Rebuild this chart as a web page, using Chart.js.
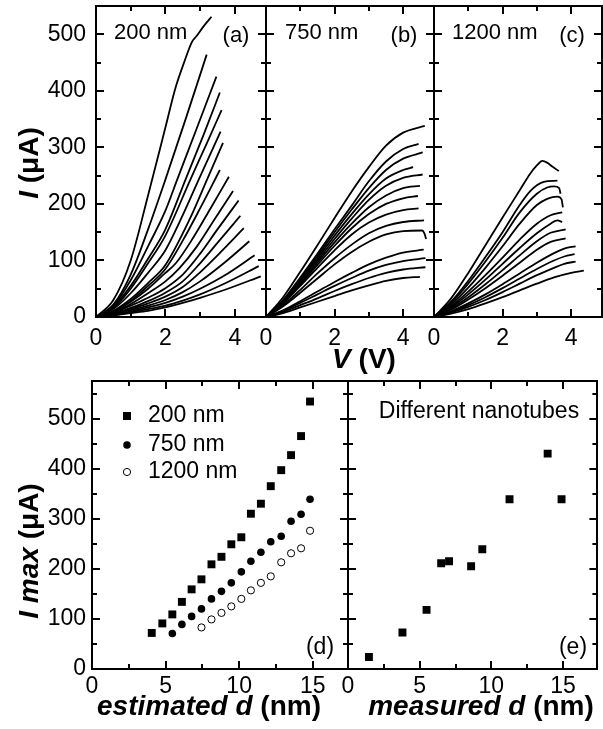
<!DOCTYPE html>
<html>
<head>
<meta charset="utf-8">
<title>I-V curves and Imax vs diameter</title>
<script src="https://cdn.jsdelivr.net/npm/chart.js@4.4.1/dist/chart.umd.min.js"></script>
<style>
  html, body { margin: 0; padding: 0; background: #fff; }
  #wrap { position: relative; width: 603px; height: 729px; }
  #wrap canvas { position: absolute; left: 0; top: 0; }
</style>
</head>
<body>
<div id="wrap">
  <canvas id="pa" width="603" height="729"></canvas>
  <canvas id="pb" width="603" height="729"></canvas>
  <canvas id="pc" width="603" height="729"></canvas>
  <canvas id="pd" width="603" height="729"></canvas>
  <canvas id="pe" width="603" height="729"></canvas>
</div>
<script>
// ---- tick values ----
const vTicks = [0, 2, 4];
const vMinor = [1, 3];
const iTicks = [0, 100, 200, 300, 400, 500];
const iMinorTop = [50, 150, 250, 350, 450];
const dTicks = [0, 5, 10, 15];
const dMinor = [2.5, 7.5, 12.5];
const iMinorBottom = [50, 150, 250, 350, 450, 550];

// ---- (a) I-V curves, 200 nm, [V, I] ----
const curves200 = [
  [[0,0],[0.5,30],[1,100],[1.5,215],[2,335],[2.29,405],[2.55,452],[2.77,487],[2.9,497],[3.1,514],[3.33,531]],
  [[0,0],[0.5,22],[1,75],[1.5,155],[2,243],[2.6,353],[3.19,464]],
  [[0,0],[0.5,20],[1,65],[1.5,125],[2,188],[2.34,243],[2.9,333],[3.47,425]],
  [[0,0],[0.5,18],[1,55],[1.5,103],[2,155],[2.58,243],[3.1,322],[3.57,397]],
  [[0,0],[0.5,16],[1,50],[1.5,95],[2,144],[2.72,243],[3.2,308],[3.62,366]],
  [[0,0],[0.5,14],[1,42],[1.5,78],[2,118],[2.5,180],[2.96,243],[3.59,328]],
  [[0,0],[0.5,11],[1,32],[1.5,60],[2,92],[2.7,173],[3.2,243],[3.66,308]],
  [[0,0],[0.5,10],[1,29],[1.5,55],[2,85],[2.5,135],[3.0,192],[3.57,260]],
  [[0,0],[0.5,9],[1,27],[1.5,50],[2,78],[2.3,95],[2.8,140],[3.3,192],[3.83,248]],
  [[0,0],[0.5,8],[1,23],[1.5,42],[2,63],[2.4,86],[2.9,124],[3.4,171],[3.95,223]],
  [[0,0],[0.5,7],[1,20],[1.5,34],[2,51],[2.5,75],[3,112],[3.5,155],[4.11,206]],
  [[0,0],[0.5,6],[1,16],[1.5,28],[2,43],[2.5,63],[3,95],[3.5,131],[4.16,179]],
  [[0,0],[0.5,5],[1,14],[1.5,24],[2,36],[2.5,53],[3,79],[3.6,115],[4.26,157]],
  [[0,0],[0.5,5],[1,12],[1.5,20],[2,30],[2.5,44],[3,63],[3.7,96],[4.42,134]],
  [[0,0],[0.5,4],[1,10],[1.5,17],[2,25],[2.5,36],[3,50],[3.8,77],[4.57,109]],
  [[0,0],[0.5,3],[1,8],[1.5,14],[2,20],[2.5,29],[3,40],[3.8,62],[4.69,90]],
  [[0,0],[0.5,3],[1,7],[1.5,11],[2,17],[2.5,25],[3,34],[3.8,50],[4.75,72]]
];

// ---- (b) I-V curves, 750 nm ----
const curves750 = [
  [[0,0],[0.5,35],[1,80],[1.5,127],[2,175],[2.5,222],[3,265],[3.5,303],[4,326],[4.63,338]],
  [[0,0],[0.5,30],[1,70],[1.5,112],[2,155],[2.5,197],[3,240],[3.5,275],[4,297],[4.45,306]],
  [[0,0],[0.5,29],[1,67],[1.5,108],[2,150],[2.5,190],[3,228],[3.5,260],[4,280],[4.57,291]],
  [[0,0],[0.5,28],[1,65],[1.5,104],[2,144],[2.5,182],[3,217],[3.5,245],[4,260],[4.29,265]],
  [[0,0],[0.5,27],[1,63],[1.5,100],[2,138],[2.5,174],[3,207],[3.5,232],[4,246],[4.57,252]],
  [[0,0],[0.5,26],[1,60],[1.5,96],[2,132],[2.5,165],[3,194],[3.5,215],[4,228],[4.49,232]],
  [[0,0],[0.5,25],[1,58],[1.5,92],[2,126],[2.5,157],[3,182],[3.5,200],[4,210],[4.43,214]],
  [[0,0],[0.5,24],[1,55],[1.5,87],[2,118],[2.5,146],[3,167],[3.5,181],[4,189],[4.45,192]],
  [[0,0],[0.5,21],[1,48],[1.5,77],[2,104],[2.5,128],[3,148],[3.5,161],[4,168],[4.61,171]],
  [[0,0],[0.5,19],[1,43],[1.5,68],[2,93],[2.5,115],[3,133],[3.5,146],[4,152],[4.55,153],[4.62,148],[4.67,138]],
  [[0,0],[0.5,12],[1,28],[1.5,45],[2,62],[2.5,78],[3,93],[3.5,105],[4,114],[4.6,119]],
  [[0,0],[0.5,11],[1,25],[1.5,40],[2,55],[2.5,69],[3,82],[3.5,92],[4,99],[4.65,104]],
  [[0,0],[0.5,9],[1,21],[1.5,33],[2,46],[2.5,58],[3,69],[3.5,78],[4,84],[4.65,88]],
  [[0,0],[0.5,7],[1,17],[1.5,27],[2,37],[2.5,47],[3,56],[3.5,64],[4,69],[4.49,71]]
];

// ---- (c) I-V curves, 1200 nm ----
const curves1200 = [
  [[0,0],[0.5,33],[1,78],[1.5,127],[2,176],[2.5,224],[2.8,253],[3.0,268],[3.16,276],[3.3,273],[3.45,266],[3.64,258]],
  [[0,0],[0.5,27],[1,64],[1.5,106],[2,150],[2.5,198],[2.8,222],[3.0,233],[3.2,239],[3.6,241]],
  [[0,0],[0.5,25],[1,59],[1.5,98],[2,140],[2.5,185],[3.0,218],[3.3,229],[3.5,231],[3.65,228],[3.69,218]],
  [[0,0],[0.5,22],[1,52],[1.5,87],[2,125],[2.5,165],[3.0,198],[3.3,209],[3.6,213],[3.72,208],[3.76,194]],
  [[0,0],[0.5,19],[1,45],[1.5,74],[2,105],[2.5,137],[3.0,165],[3.4,180],[3.74,185]],
  [[0,0],[0.5,17],[1,40],[1.5,66],[2,94],[2.5,122],[3.0,148],[3.4,165],[3.6,171],[3.74,168]],
  [[0,0],[0.5,15],[1,35],[1.5,58],[2,83],[2.5,109],[3.0,134],[3.4,149],[3.84,155]],
  [[0,0],[0.5,13],[1,31],[1.5,51],[2,73],[2.5,96],[3.0,119],[3.4,133],[3.84,139]],
  [[0,0],[0.5,10],[1,24],[1.5,40],[2,58],[2.5,77],[3.0,96],[3.5,113],[3.8,121],[4.13,125]],
  [[0,0],[0.5,9],[1,21],[1.5,35],[2,51],[2.5,68],[3.0,85],[3.5,100],[3.8,107],[4.1,111]],
  [[0,0],[0.5,8],[1,18],[1.5,30],[2,44],[2.5,59],[3.0,74],[3.5,87],[3.8,94],[4.13,98]],
  [[0,0],[0.5,6],[1,14],[1.5,24],[2,35],[2.5,47],[3.0,59],[3.5,70],[4.0,78],[4.37,82]]
];

// ---- (d) Imax vs estimated d ----
const estD200 = [4.06, 4.78, 5.46, 6.11, 6.77, 7.44, 8.12, 8.8, 9.47, 10.15, 10.8, 11.48, 12.15, 12.86, 13.53, 14.21, 14.82];
const imax200 = [72, 91, 109, 134, 159, 179, 209, 224, 249, 263, 310, 330, 365, 397, 427, 465, 534];
const estD750 = [5.46, 6.11, 6.77, 7.44, 8.12, 8.8, 9.47, 10.15, 10.8, 11.48, 12.15, 12.86, 13.53, 14.21, 14.82];
const imax750 = [71, 89, 105, 120, 140, 155, 172, 194, 215, 233, 254, 265, 295, 309, 339];
const estD1200 = [7.44, 8.12, 8.8, 9.47, 10.15, 10.8, 11.48, 12.15, 12.86, 13.53, 14.21, 14.82];
const imax1200 = [83, 99, 112, 125, 140, 157, 172, 185, 213, 231, 241, 276];

// ---- (e) Imax vs measured d ----
const measD = [1.46, 3.8, 5.48, 6.5, 7.05, 8.59, 9.37, 11.27, 13.93, 14.9];
const imaxMeas = [24, 73, 118, 211, 215, 205, 239, 339, 430, 339];

const W = 603, H = 729;
const FAM = '"Liberation Sans", Arial, sans-serif';
const f = (s, style) => (style || '') + ' ' + s + 'px ' + FAM;
const TITLE = f(28, 'bold'), TITLE_I = f(28, 'italic bold');
const TXT = f(22), TXT2 = f(23);

function zip(xs, ys) { return xs.map((x, i) => ({ x: x, y: ys[i] })); }

function curveSets(curves) {
  return curves.map(c => ({
    data: c.map(p => ({ x: p[0], y: p[1] })),
    showLine: true,
    borderColor: '#000',
    borderWidth: 1.8,
    pointRadius: 0,
    cubicInterpolationMode: 'monotone',
    fill: false
  }));
}

// free text with mixed fonts, page coordinates
function textPlugin(items) {
  return {
    id: 'freeText',
    afterDraw(chart) {
      const ctx = chart.ctx;
      items.forEach(it => {
        ctx.save();
        ctx.translate(it.x, it.y);
        if (it.rot) ctx.rotate(it.rot);
        ctx.fillStyle = '#000';
        ctx.textBaseline = 'middle';
        ctx.textAlign = 'left';
        let w = 0;
        it.parts.forEach(p => { ctx.font = p[1]; w += ctx.measureText(p[0]).width; });
        let cx = it.left ? 0 : -w / 2;
        it.parts.forEach(p => {
          ctx.font = p[1];
          ctx.fillText(p[0], cx, 0);
          cx += ctx.measureText(p[0]).width;
        });
        ctx.restore();
      });
    }
  };
}

// legend for panel (d)
const legendPlugin = {
  id: 'legendMarks',
  afterDraw(chart) {
    const ctx = chart.ctx;
    ctx.save();
    ctx.fillStyle = '#000';
    ctx.strokeStyle = '#000';
    ctx.fillRect(123, 412, 8, 8);
    ctx.beginPath(); ctx.arc(127, 445, 3.8, 0, Math.PI * 2); ctx.fill();
    ctx.lineWidth = 1;
    ctx.beginPath(); ctx.arc(127, 472, 3.6, 0, Math.PI * 2); ctx.stroke();
    ctx.restore();
  }
};

// inward tick marks drawn by the scale itself (negative tick length)
function tickGrid(len) {
  return { display: true, drawOnChartArea: false, drawTicks: true, tickLength: -len,
           tickWidth: 2, tickColor: '#000', lineWidth: 2, color: '#000' };
}
const edge = { display: true, width: 2, color: '#000' };
const noEdge = { display: false };

// one axis: position, tick values, tick length, labels on/off, fixed size
function axis(pos, range, values, len, border, weight, size, labels) {
  const horiz = pos === 'bottom' || pos === 'top';
  return {
    type: 'linear', position: pos, min: range[0], max: range[1], weight: weight,
    grid: tickGrid(len),
    border: border,
    ticks: labels
      ? { display: true, color: '#000', font: { family: FAM, size: 23 }, padding: labels + len, maxRotation: 0, autoSkip: false }
      : { display: false },
    afterBuildTicks: s => { s.ticks = values.map(v => ({ value: v })); },
    afterFit: s => {
      if (horiz) s.height = size; else s.width = size;
      s.paddingLeft = 0; s.paddingRight = 0; s.paddingTop = 0; s.paddingBottom = 0;
    }
  };
}

function makePanel(id, box, xr, yr, tk, datasets, plugins) {
  return new Chart(document.getElementById(id), {
    type: 'scatter',
    data: { datasets: datasets },
    options: {
      responsive: false,
      animation: false,
      events: [],
      layout: {
        padding: { left: box.l - box.yW, top: box.t, right: W - box.r, bottom: H - box.b - box.xH }
      },
      plugins: { legend: { display: false }, tooltip: { enabled: false } },
      scales: {
        x: axis('bottom', xr, tk.xMaj, 8, edge, 1, box.xH, box.xPad),
        xMinor: axis('bottom', xr, tk.xMin, 5, noEdge, 0, 0, 0),
        xTop: axis('top', xr, tk.xMaj, 8, edge, 1, 0, 0),
        xTopMinor: axis('top', xr, tk.xMin, 5, noEdge, 0, 0, 0),
        y: axis('left', yr, tk.yMaj, 8, edge, 1, box.yW, box.yW > 0 ? box.yPad : 0),
        yMinor: axis('left', yr, tk.yMin, 5, noEdge, 0, 0, 0),
        yRight: axis('right', yr, tk.yMaj, 8, edge, 1, 0, 0),
        yRightMinor: axis('right', yr, tk.yMin, 5, noEdge, 0, 0, 0)
      }
    },
    plugins: plugins
  });
}

const topTicks = { xMaj: vTicks, xMin: vMinor, yMaj: iTicks, yMin: iMinorTop };
const botTicks = { xMaj: dTicks, xMin: dMinor, yMaj: iTicks, yMin: iMinorBottom };
const vRange = [0, 4.9], iRange = [0, 550];
const dRange = [0, 17.4], imaxRange = [0, 575];

// (a)
makePanel('pa', { l: 96, t: 6, r: 266, b: 317, yW: 96, xH: 35, xPad: 8, yPad: 10 },
  vRange, iRange, topTicks, curveSets(curves200), [
    textPlugin([
      { x: 30, y: 163, rot: -Math.PI / 2, parts: [['I', TITLE_I], [' (\u03bcA)', TITLE]] },
      { x: 114, y: 33, left: true, parts: [['200 nm', TXT]] },
      { x: 236, y: 36, parts: [['(a)', TXT]] }
    ])
  ]);

// (b)
makePanel('pb', { l: 266, t: 6, r: 434, b: 317, yW: 0, xH: 35, xPad: 8, yPad: 10 },
  vRange, iRange, topTicks, curveSets(curves750), [
    textPlugin([
      { x: 364, y: 360, parts: [['V', TITLE_I], [' (V)', TITLE]] },
      { x: 285, y: 33, left: true, parts: [['750 nm', TXT]] },
      { x: 404, y: 36, parts: [['(b)', TXT]] }
    ])
  ]);

// (c)
makePanel('pc', { l: 434, t: 6, r: 602, b: 317, yW: 0, xH: 35, xPad: 8, yPad: 10 },
  vRange, iRange, topTicks, curveSets(curves1200), [
    textPlugin([
      { x: 452, y: 33, left: true, parts: [['1200 nm', TXT]] },
      { x: 572, y: 36, parts: [['(c)', TXT]] }
    ])
  ]);

// (d)
makePanel('pd', { l: 92, t: 381, r: 348, b: 669, yW: 92, xH: 30, xPad: 4, yPad: 6 },
  dRange, imaxRange, botTicks, [
    { data: zip(estD200, imax200), pointStyle: 'rect', pointRadius: 5.6, backgroundColor: '#000', borderColor: '#000', borderWidth: 0 },
    { data: zip(estD750, imax750), pointStyle: 'circle', pointRadius: 3.8, backgroundColor: '#000', borderColor: '#000', borderWidth: 0 },
    { data: zip(estD1200, imax1200), pointStyle: 'circle', pointRadius: 3.6, backgroundColor: '#fff', borderColor: '#000', borderWidth: 1 }
  ], [
    legendPlugin,
    textPlugin([
      { x: 30, y: 551, rot: -Math.PI / 2, parts: [['I max', TITLE_I], [' (\u03bcA)', TITLE]] },
      { x: 209, y: 707, parts: [['estimated d', TITLE_I], [' (nm)', TITLE]] },
      { x: 148, y: 416, left: true, parts: [['200 nm', TXT2]] },
      { x: 148, y: 445, left: true, parts: [['750 nm', TXT2]] },
      { x: 148, y: 472, left: true, parts: [['1200 nm', TXT2]] },
      { x: 320, y: 648, parts: [['(d)', TXT2]] }
    ])
  ]);

// (e)
makePanel('pe', { l: 348, t: 381, r: 602, b: 669, yW: 0, xH: 30, xPad: 4, yPad: 6 },
  dRange, imaxRange, botTicks, [
    { data: zip(measD, imaxMeas), pointStyle: 'rect', pointRadius: 5.6, backgroundColor: '#000', borderColor: '#000', borderWidth: 0 }
  ], [
    textPlugin([
      { x: 479, y: 412, parts: [['Different nanotubes', TXT2]] },
      { x: 481, y: 707, parts: [['measured d', TITLE_I], [' (nm)', TITLE]] },
      { x: 573, y: 648, parts: [['(e)', TXT2]] }
    ])
  ]);
</script>
</body>
</html>
